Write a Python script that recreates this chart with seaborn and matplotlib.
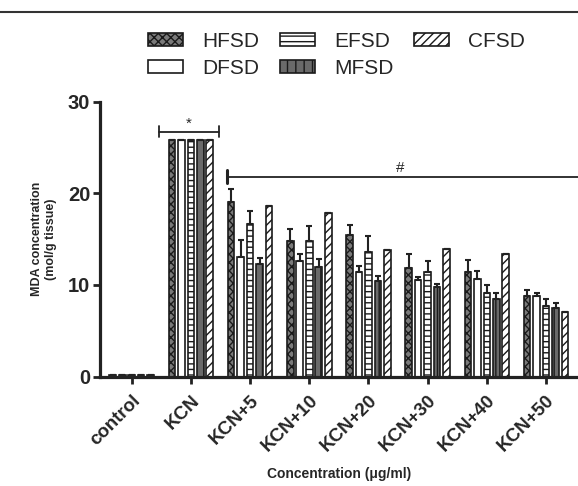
import numpy as np
import pandas as pd
import matplotlib
matplotlib.use("Agg")
import matplotlib.pyplot as plt
from matplotlib.lines import Line2D
import seaborn as sns

# ------------------------------------------------------------
# Data
# ------------------------------------------------------------
groups = ["control", "KCN", "KCN+5", "KCN+10", "KCN+20", "KCN+30", "KCN+40", "KCN+50"]
series = ["HFSD", "DFSD", "EFSD", "MFSD", "CFSD"]

hfsd = [0.2, 25.8, 19.1, 14.8, 15.45, 11.9, 11.4, 8.75]
dfsd = [0.2, 25.8, 13.1, 12.6, 11.4, 10.55, 10.7, 8.85]
efsd = [0.2, 25.8, 16.6, 14.8, 13.6, 11.4, 9.1, 7.7]
mfsd = [0.2, 25.8, 12.3, 12.0, 10.4, 9.8, 8.45, 7.5]
cfsd = [0.2, 25.8, 18.6, 17.9, 13.8, 13.9, 13.4, 7.1]

hfsd_err = [0, 0, 1.4, 1.3, 1.1, 1.45, 1.35, 0.75]
dfsd_err = [0, 0, 1.8, 0.8, 0.7, 0.35, 0.8, 0.3]
efsd_err = [0, 0, 1.5, 1.6, 1.7, 1.25, 0.9, 0.8]
mfsd_err = [0, 0, 0.6, 0.8, 0.6, 0.35, 0.7, 0.5]
cfsd_err = [0, 0, 0, 0, 0, 0, 0, 0]

values = {"HFSD": hfsd, "DFSD": dfsd, "EFSD": efsd, "MFSD": mfsd, "CFSD": cfsd}
errors = {"HFSD": hfsd_err, "DFSD": dfsd_err, "EFSD": efsd_err, "MFSD": mfsd_err, "CFSD": cfsd_err}

df = pd.DataFrame([
    {"group": g, "series": s, "mda": values[s][i]}
    for s in series for i, g in enumerate(groups)
])

# styling per series
face = {"HFSD": "#7a7a7a", "DFSD": "white", "EFSD": "white", "MFSD": "#6a6a6a", "CFSD": "white"}
hatches = {"HFSD": "XXXX", "DFSD": "", "EFSD": "---", "MFSD": "||", "CFSD": "////"}

# ------------------------------------------------------------
# Plot
# ------------------------------------------------------------
sns.set_style("ticks")
plt.rcParams["font.family"] = ["Liberation Sans", "DejaVu Sans"]
plt.rcParams["hatch.linewidth"] = 1.0

fig = plt.figure(figsize=(5.78, 4.86), dpi=100)
ax = fig.add_axes([0.173, 0.225, 0.827, 0.566])

sns.barplot(data=df, x="group", y="mda", hue="series", order=groups,
            hue_order=series, palette=face, errorbar=None, width=0.8,
            gap=0.3, edgecolor="#222222", linewidth=1.2, legend=False, ax=ax)

for s, cont in zip(series, ax.containers):
    xs = []
    for p in cont.patches:
        p.set_hatch(hatches[s])
        p.set_edgecolor("#1a1a1a")
        xs.append(p.get_x() + p.get_width() / 2)
    ax.errorbar(xs, values[s], yerr=[np.zeros(len(groups)), errors[s]],
                fmt="none", ecolor="#222222", elinewidth=1.5, capsize=2.5,
                capthick=1.5, zorder=1)

ax.set_xlim(-0.535, 7.54)
ax.set_ylim(0, 30)
ax.set_yticks([0, 10, 20, 30])
ax.set_xticks(range(len(groups)))
ax.set_xticklabels(groups, rotation=45, ha="right", rotation_mode="anchor",
                   fontsize=13.5, fontweight="bold")
for lab in ax.get_yticklabels():
    lab.set_fontsize(14.5)
    lab.set_fontweight("bold")
ax.tick_params(axis="both", width=2, length=5, color="#222222")
ax.tick_params(axis="x", pad=6)
ax.tick_params(axis="y", pad=2)

sns.despine(ax=ax)
for sp in ("left", "bottom"):
    ax.spines[sp].set_linewidth(2.3)
    ax.spines[sp].set_color("#222222")

ax.set_xlabel("Concentration (μg/ml)", fontsize=10, fontweight="bold", labelpad=9)
ax.set_ylabel("MDA concentration\n(mol/g tissue)", fontsize=9, fontweight="bold",
              labelpad=8)

# significance markers
ax.plot([0.46, 1.47], [26.7, 26.7], color="#222222", lw=1.3, clip_on=False)
ax.plot([0.46, 0.46], [26.1, 27.3], color="#222222", lw=1.3, clip_on=False)
ax.plot([1.47, 1.47], [26.1, 27.3], color="#222222", lw=1.3, clip_on=False)
ax.text(0.97, 26.85, "*", ha="center", va="bottom", fontsize=11)

ax.plot([1.61, 7.6], [21.8, 21.8], color="#222222", lw=1.3, clip_on=True)
ax.plot([1.61, 1.61], [21.15, 22.5], color="#222222", lw=2.2)
ax.text(4.53, 22.0, "#", ha="center", va="bottom", fontsize=11)

# legend
ax.legend(handles=ax.containers, labels=series, ncol=3, frameon=False,
          loc="upper left", bbox_to_anchor=(0.241, 0.952),
          bbox_transform=fig.transFigure, fontsize=15, handlelength=1.7,
          handleheight=0.6, handletextpad=0.9, columnspacing=1.0,
          labelspacing=0.4, borderaxespad=0)

# page rule at top
fig.add_artist(Line2D([0, 1], [0.975, 0.975], color="#333333", lw=1.5,
                      transform=fig.transFigure))

fig.savefig("out.png", dpi=100)
